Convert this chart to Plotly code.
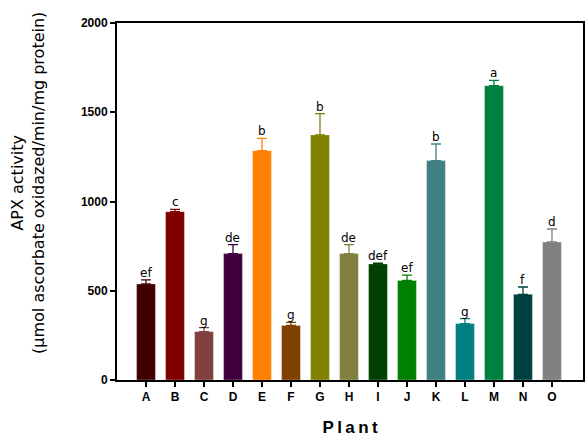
import plotly.graph_objects as go

plants = ["A", "B", "C", "D", "E", "F", "G", "H", "I", "J", "K", "L", "M", "N", "O"]
apx = [538, 943, 271, 708, 1285, 306, 1373, 708, 650, 558, 1229, 316, 1649, 480, 773]
err = [23, 13, 22, 50, 69, 17, 119, 50, 4, 30, 93, 28, 30, 41, 73]
letters = ["ef", "c", "g", "de", "b", "g", "b", "de", "def", "ef", "b", "g", "a", "f", "d"]
colors = ["#400000", "#800000", "#804040", "#400040", "#ff8000", "#804000", "#808000",
          "#808040", "#004000", "#008000", "#408080", "#008080", "#008040", "#004040", "#808080"]
y_ticks = [0, 500, 1000, 1500, 2000]

FONT = "Liberation Sans, Arial, sans-serif"
WIDE = "DejaVu Sans, sans-serif"

fig = go.Figure()
for i, p in enumerate(plants):
    fig.add_trace(go.Bar(
        x=[i], y=[apx[i]],
        marker=dict(color=colors[i], line=dict(width=0.6, color="rgba(255,255,255,0.5)")),
        width=0.65,
        error_y=dict(type="data", array=[err[i]], symmetric=False, arrayminus=[0],
                     color=colors[i], thickness=1.3, width=5, visible=True),
        showlegend=False,
    ))
    fig.add_annotation(x=i, y=apx[i] + err[i], text=letters[i], showarrow=False,
                       yanchor="bottom", yshift=-2,
                       font=dict(family=WIDE, size=12, color="#000000"))

# y-axis title (placed as annotation to match the reference's vertical offset)
fig.add_annotation(xref="paper", yref="paper", x=0, y=0.552,
                   xanchor="center", yanchor="middle", xshift=-89,
                   text="APX activity<br>(µmol ascorbate oxidazed/min/mg protein)",
                   textangle=-90, showarrow=False,
                   font=dict(family=WIDE, size=16, color="black"))

fig.update_layout(
    width=586, height=437,
    margin=dict(l=117, r=1, t=23, b=57),
    plot_bgcolor="white", paper_bgcolor="white",
    bargap=0.35,
    xaxis=dict(
        tickmode="array", tickvals=list(range(len(plants))), ticktext=plants,
        range=[-1, 15.07],
        showline=True, linecolor="black", linewidth=2, mirror=True,
        ticks="outside", ticklen=5, tickwidth=1.5, tickcolor="black",
        tickfont=dict(family=FONT, size=12, color="black", weight="bold"),
        showgrid=False, zeroline=False,
        title=dict(text="P\u2009l\u2009a\u2009n\u2009t",
                   font=dict(family=FONT, size=17, color="black", weight="bold"),
                   standoff=18),
    ),
    yaxis=dict(
        range=[0, 2000], tickvals=y_ticks,
        showline=True, linecolor="black", linewidth=2, mirror=True,
        ticks="outside", ticklen=5, tickwidth=1.5, tickcolor="black",
        tickfont=dict(family=FONT, size=12, color="black", weight="bold"),
        showgrid=False, zeroline=False,
    ),
)

fig.write_html("out.html")
